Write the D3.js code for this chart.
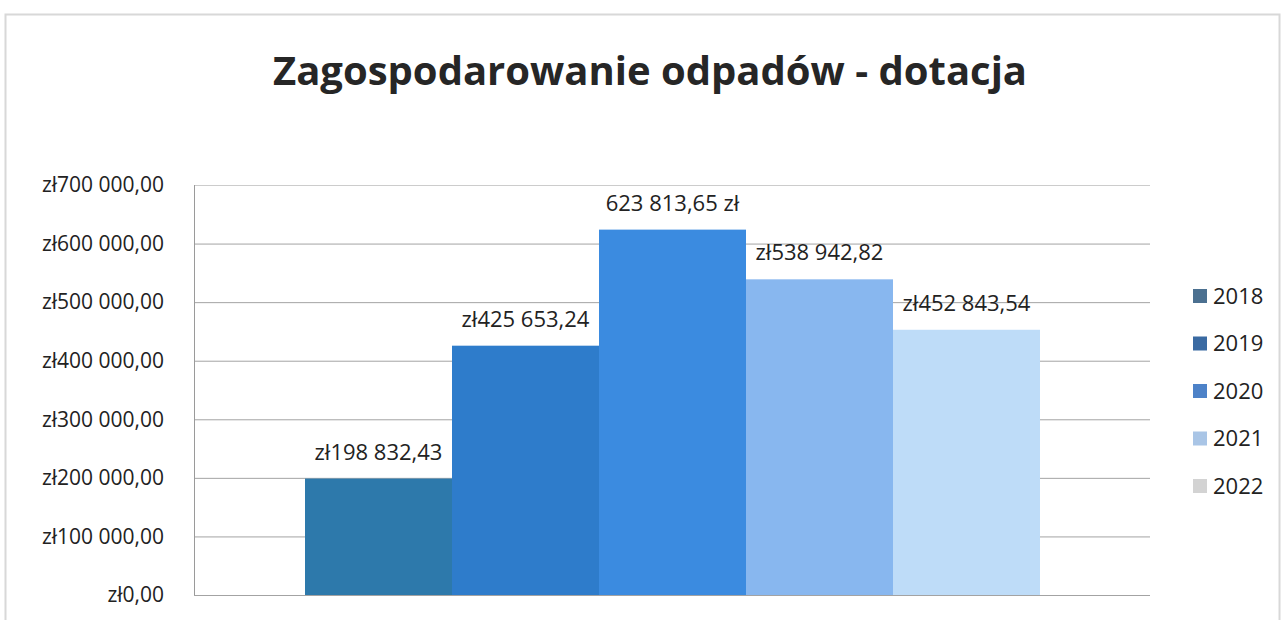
<!DOCTYPE html>
<html>
<head>
<meta charset="utf-8">
<script src="https://cdn.jsdelivr.net/npm/d3@7"></script>
<style>
  body { margin: 0; background: #fff; }
  text { font-family: "Open Sans", "Noto Sans", sans-serif; fill: #222; }
</style>
</head>
<body>
<div id="chart"></div>
<script>
// data
const years = ["2018", "2019", "2020", "2021", "2022"];
const values = [198832.43, 425653.24, 623813.65, 538942.82, 452843.54];
const valueLabels = ["zł198 832,43", "zł425 653,24", "623 813,65 zł", "zł538 942,82", "zł452 843,54"];
const yTicks = [0, 100000, 200000, 300000, 400000, 500000, 600000, 700000];
const yTickLabels = ["zł0,00", "zł100 000,00", "zł200 000,00", "zł300 000,00",
  "zł400 000,00", "zł500 000,00", "zł600 000,00", "zł700 000,00"];

const barColors = ["#2d79ab", "#2e7ccb", "#3b8be0", "#88b7ef", "#bedcf8"];
const legendColors = ["#4b7090", "#3a6aa2", "#4d82c8", "#a9c5e6", "#d3d3d3"];

const W = 1286, H = 620;
const margin = { top: 185, right: 136, bottom: 25, left: 194 };
const width = W - margin.left - margin.right;
const height = H - margin.top - margin.bottom;

const svg = d3.select("#chart").append("svg")
  .attr("width", W)
  .attr("height", H);

// outer frame (scan edge)
svg.append("rect")
  .attr("x", 5.5).attr("y", 14.5)
  .attr("width", 1274).attr("height", 620)
  .attr("fill", "none")
  .attr("stroke", "#d8d8d8")
  .attr("stroke-width", 2);

// title
svg.append("text")
  .attr("x", 650)
  .attr("y", 85)
  .attr("text-anchor", "middle")
  .style("font-size", "40px")
  .style("font-weight", "bold")
  .style("fill", "#262626")
  .text("Zagospodarowanie odpadów - dotacja");

const g = svg.append("g")
  .attr("transform", `translate(${margin.left},${margin.top})`);

const y = d3.scaleLinear()
  .domain([0, 700000])
  .range([height, 0]);

// bars for the years sit side by side in the middle of the plot
const x = d3.scaleBand()
  .domain(years)
  .range([111, 846])
  .padding(0);

// gridlines
g.selectAll(".grid")
  .data(yTicks)
  .enter()
  .append("line")
  .attr("class", "grid")
  .attr("x1", 0)
  .attr("x2", width)
  .attr("y1", d => y(d) + 0.5)
  .attr("y2", d => y(d) + 0.5)
  .attr("stroke", d => d === 700000 ? "#cccccc" : "#a3a3a3")
  .attr("stroke-width", 1);

// left axis line
g.append("line")
  .attr("x1", 0.5).attr("x2", 0.5)
  .attr("y1", 0).attr("y2", height)
  .attr("stroke", "#9a9a9a");

// y axis labels
const yAxis = d3.axisLeft(y)
  .tickValues(yTicks)
  .tickFormat((d, i) => yTickLabels[i])
  .tickSize(0)
  .tickPadding(30);

g.append("g")
  .call(yAxis)
  .call(a => a.select(".domain").remove())
  .selectAll("text")
  .style("font-size", "21px")
  .style("font-family", "'Open Sans', sans-serif")
  .attr("fill", "#222");

// bars
g.selectAll(".bar")
  .data(values)
  .enter()
  .append("rect")
  .attr("class", "bar")
  .attr("x", (d, i) => x(years[i]))
  .attr("y", d => y(d))
  .attr("width", x.bandwidth())
  .attr("height", d => height - y(d))
  .attr("fill", (d, i) => barColors[i]);

// data labels
g.selectAll(".label")
  .data(values)
  .enter()
  .append("text")
  .attr("class", "label")
  .attr("x", (d, i) => x(years[i]) + x.bandwidth() / 2)
  .attr("y", d => y(d) - 19)
  .attr("text-anchor", "middle")
  .style("font-size", "22px")
  .text((d, i) => valueLabels[i]);

// legend
const legend = svg.append("g")
  .attr("transform", "translate(1193, 296)");

const item = legend.selectAll(".item")
  .data(years)
  .enter()
  .append("g")
  .attr("class", "item")
  .attr("transform", (d, i) => `translate(0, ${i * 47.5})`);

item.append("rect")
  .attr("x", 0)
  .attr("y", -7)
  .attr("width", 14)
  .attr("height", 14)
  .attr("fill", (d, i) => legendColors[i]);

item.append("text")
  .attr("x", 20)
  .attr("y", 0)
  .attr("dy", "0.35em")
  .style("font-size", "22px")
  .text(d => d);
</script>
</body>
</html>
